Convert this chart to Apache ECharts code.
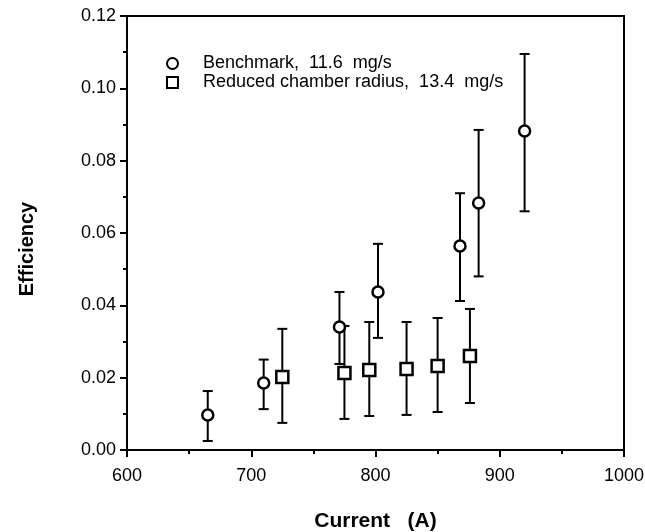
<!DOCTYPE html>
<html>
<head>
<meta charset="utf-8">
<script src="https://cdn.jsdelivr.net/npm/echarts@6/dist/echarts.min.js"></script>
<style>
  html, body { margin: 0; padding: 0; background: #fff; }
  #chart { width: 645px; height: 532px; }
</style>
</head>
<body>
<div id="chart"></div>
<script>
// benchmark, 11.6 mg/s
const bmCurrent = [665, 710, 771, 802, 868, 883, 920];
const bmEff = [0.0097, 0.0185, 0.034, 0.0437, 0.0564, 0.0683, 0.0882];
const bmLow = [0.0025, 0.0113, 0.0238, 0.031, 0.0412, 0.048, 0.066];
const bmHigh = [0.0163, 0.025, 0.0437, 0.057, 0.071, 0.0885, 0.1095];

// reduced chamber radius, 13.4 mg/s
const rcCurrent = [725, 775, 795, 825, 850, 876];
const rcEff = [0.0202, 0.0213, 0.0221, 0.0224, 0.0232, 0.026];
const rcLow = [0.0075, 0.0086, 0.0094, 0.0097, 0.0105, 0.013];
const rcHigh = [0.0335, 0.0343, 0.0354, 0.0354, 0.0365, 0.039];

const seriesNames = ['Benchmark,  11.6  mg/s', 'Reduced chamber radius,  13.4  mg/s'];

const font = 'Liberation Sans, Arial, Helvetica, sans-serif';

const chart = echarts.init(document.getElementById('chart'));

// error bar: vertical line with caps
const renderErrorBar = (params, api) => {
  const top = api.coord([api.value(0), api.value(2)]);
  const bottom = api.coord([api.value(0), api.value(1)]);
  const half = 5;
  const style = { stroke: '#000', lineWidth: 2 };
  return {
    type: 'group',
    children: [
      { type: 'line', shape: { x1: top[0], y1: top[1], x2: bottom[0], y2: bottom[1] }, style },
      { type: 'line', shape: { x1: top[0] - half, y1: top[1], x2: top[0] + half, y2: top[1] }, style },
      { type: 'line', shape: { x1: bottom[0] - half, y1: bottom[1], x2: bottom[0] + half, y2: bottom[1] }, style },
    ],
  };
};

const options = {
  animation: false,
  backgroundColor: '#fff',
  grid: {
    left: 127,
    right: 21,
    top: 16,
    bottom: 82,
    outerBoundsMode: 'none',
    show: true,
    borderColor: '#000',
    borderWidth: 2,
  },
  legend: {
    orient: 'vertical',
    left: 161,
    top: 49,
    itemWidth: 11,
    itemHeight: 11,
    itemGap: 0,
    selectedMode: false,
    data: [
      { name: seriesNames[0], icon: 'circle' },
      { name: seriesNames[1], icon: 'rect' },
    ],
    textStyle: {
      color: '#000',
      fontFamily: font,
      fontSize: 18,
      lineHeight: 19,
      padding: [0, 0, 0, 20],
    },
  },
  xAxis: {
    type: 'value',
    min: 600,
    max: 1000,
    interval: 100,
    name: 'Current   (A)',
    nameLocation: 'middle',
    nameGap: 61,
    nameTextStyle: { color: '#000', fontFamily: font, fontSize: 21, fontWeight: 'bold' },
    axisLine: { onZero: false, lineStyle: { color: '#000', width: 2 } },
    axisTick: { show: true, inside: false, length: 7, lineStyle: { color: '#000', width: 2 } },
    minorTick: { show: true, splitNumber: 2, length: 4, lineStyle: { color: '#000', width: 2 } },
    splitLine: { show: false },
    axisLabel: {
      color: '#000',
      fontFamily: font,
      fontSize: 18,
      margin: 17,
      formatter: (v) => String(v),
    },
  },
  yAxis: {
    type: 'value',
    min: 0,
    max: 0.12,
    interval: 0.02,
    name: 'Efficiency',
    nameLocation: 'middle',
    nameGap: 90,
    nameTextStyle: {
      color: '#000',
      fontFamily: font,
      fontSize: 20,
      fontWeight: 'bold',
      padding: [0, 32, 0, 0],
    },
    axisLine: { onZero: false, lineStyle: { color: '#000', width: 2 } },
    axisTick: { show: true, inside: false, length: 7, lineStyle: { color: '#000', width: 2 } },
    minorTick: { show: true, splitNumber: 2, length: 4, lineStyle: { color: '#000', width: 2 } },
    splitLine: { show: false },
    axisLabel: {
      color: '#000',
      fontFamily: font,
      fontSize: 18,
      margin: 11,
      formatter: (v) => v.toFixed(2),
    },
  },
  series: [
    {
      type: 'custom',
      name: 'bmErr',
      renderItem: renderErrorBar,
      data: bmCurrent.map((x, i) => [x, bmLow[i], bmHigh[i]]),
      z: 2,
    },
    {
      type: 'custom',
      name: 'rcErr',
      renderItem: renderErrorBar,
      data: rcCurrent.map((x, i) => [x, rcLow[i], rcHigh[i]]),
      z: 2,
    },
    {
      type: 'scatter',
      name: seriesNames[0],
      symbol: 'circle',
      symbolSize: 11,
      itemStyle: { color: '#fff', borderColor: '#000', borderWidth: 2.5, opacity: 1 },
      data: bmCurrent.map((x, i) => [x, bmEff[i]]),
      z: 3,
    },
    {
      type: 'scatter',
      name: seriesNames[1],
      symbol: 'rect',
      symbolSize: 12,
      itemStyle: { color: '#fff', borderColor: '#000', borderWidth: 2.5, opacity: 1 },
      data: rcCurrent.map((x, i) => [x, rcEff[i]]),
      z: 3,
    },
  ],
};

chart.setOption(options);
</script>
</body>
</html>
